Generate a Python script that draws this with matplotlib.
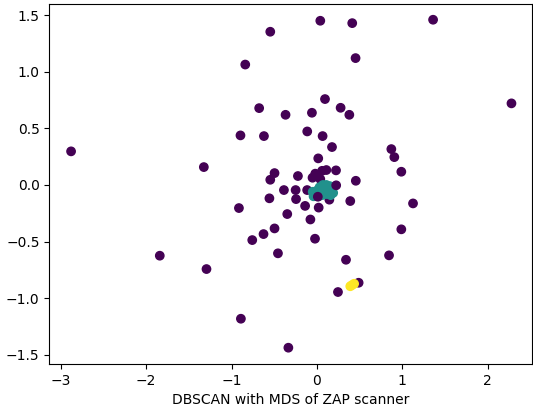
import numpy as np
import matplotlib
matplotlib.use("Agg")
import matplotlib.pyplot as plt

# Noise points (label -1), drawn first
noise_x = [-0.840, -0.547, 0.039, 0.413, 0.452, 1.360, -0.677, -0.368, -0.896, -0.621,
           -2.880, -1.325, -0.497, -0.547, -0.387, -0.557, -0.914, -0.348, -0.497, -0.626,
           -0.758, -0.457, -1.841, -1.294, -0.891, -0.335, 0.094, -0.059, 0.277, 0.379,
           2.278, -0.114, 0.066, 0.176, 0.871, 0.906, 0.015, 0.988, 0.223, 0.110,
           -0.223, -0.052, 0.039, 0.455, -0.250, -0.115, -0.245, 0.145, 0.390, -0.139,
           0.020, 1.125, -0.077, -0.023, 0.988, 0.340, 0.844, 0.488, 0.246]
noise_y = [1.064, 1.354, 1.451, 1.430, 1.121, 1.460, 0.679, 0.620, 0.438, 0.432,
           0.297, 0.158, 0.105, 0.046, -0.045, -0.118, -0.204, -0.257, -0.384, -0.434,
           -0.487, -0.604, -0.625, -0.743, -1.182, -1.438, 0.759, 0.638, 0.682, 0.620,
           0.721, 0.473, 0.432, 0.335, 0.317, 0.246, 0.235, 0.117, 0.129, 0.132,
           0.079, 0.064, 0.052, 0.037, -0.045, -0.045, -0.125, -0.130, -0.142, -0.185,
           -0.200, -0.163, -0.305, -0.475, -0.392, -0.661, -0.622, -0.864, -0.946]

# Cluster 0 (teal blob near the origin)
c0_x = [0.00, 0.03, 0.07, 0.11, 0.15, 0.18, 0.19, 0.16, 0.11, 0.06, 0.02, -0.05, -0.04, 0.08, 0.13, 0.05, 0.17]
c0_y = [-0.05, -0.02, 0.00, 0.00, -0.01, -0.03, -0.07, -0.09, -0.08, -0.09, -0.10, -0.06, -0.10, -0.05, -0.05, -0.04, -0.05]

# Noise points drawn above the teal blob
noise2_x = [0.010, 0.225, -0.020, 0.060]
noise2_y = [-0.104, -0.003, 0.100, 0.125]

# Cluster 1 (yellow)
c1_x = [0.39, 0.41, 0.435]
c1_y = [-0.895, -0.885, -0.873]

xs = noise_x + c0_x + noise2_x + c1_x
ys = noise_y + c0_y + noise2_y + c1_y
labels = [-1] * len(noise_x) + [0] * len(c0_x) + [-1] * len(noise2_x) + [1] * len(c1_x)

fig = plt.figure(figsize=(5.33, 4.12), dpi=100)
ax = fig.add_axes([0.0925, 0.1165, 0.9065, 0.8735])
ax.scatter(xs, ys, c=labels, cmap="viridis")
ax.set_xlim(-3.135, 2.524)
ax.set_ylim(-1.582, 1.598)
ax.set_xlabel("DBSCAN with MDS of ZAP scanner")
fig.savefig("out.png", dpi=100)
